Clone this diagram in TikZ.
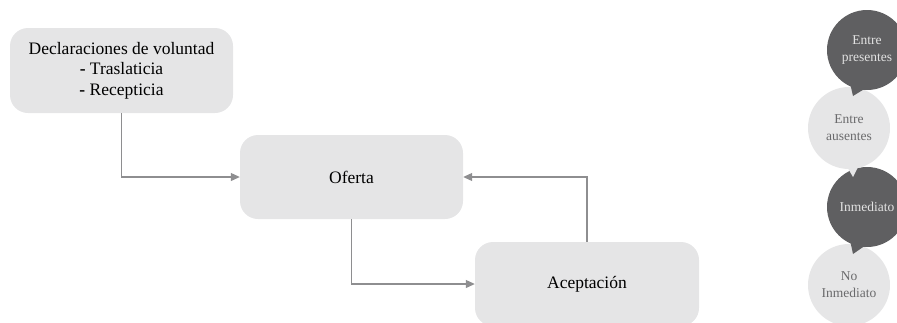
\documentclass[tikz,border=0pt]{standalone}
\usepackage{fontspec}
\setmainfont{Liberation Serif}
\usetikzlibrary{arrows.meta,calc}
\definecolor{boxfill}{HTML}{E5E5E6}
\definecolor{darkbub}{HTML}{5F5F61}
\definecolor{lightbub}{HTML}{E6E6E7}
\definecolor{linegray}{HTML}{8E8E90}
\definecolor{darktext}{HTML}{E2E2E2}
\definecolor{lighttext}{HTML}{6A6A6C}
\tikzset{
  box/.style={fill=boxfill, rounded corners=18pt, align=center, inner sep=0pt,
    font=\fontsize{17.5}{20.5}\selectfont, text=black},
  conn/.style={draw=linegray, line width=1.1pt,
    -{Triangle[length=9pt,width=8pt]}},
  bubble/.style={circle, minimum size=#1, inner sep=0pt, align=center,
    font=\fontsize{13.5}{17}\selectfont},
  darkb/.style={bubble=80pt, fill=darkbub, text=darktext},
  lightb/.style={bubble=82pt, fill=lightbub, text=lighttext},
}
\begin{document}
\begin{tikzpicture}[x=1pt,y=-1pt]
\useasboundingbox (0,0) rectangle (897,322);
\clip (0,0) rectangle (897,322);

% main flow boxes
\node[box, minimum width=223pt, minimum height=85pt] (decl) at (121.5,70.5)
  {Declaraciones de voluntad\\\textbf{-} Traslaticia\\\textbf{-} Recepticia};
\node[box, minimum width=223pt, minimum height=84pt] (oferta) at (351.5,177) {Oferta};
\node[box, minimum width=224pt, minimum height=84pt] (acep) at (587,284) {Aceptación};

% connectors
\draw[conn] (decl.south) |- (oferta.west);
\draw[conn] (oferta.south) |- (acep.west);
\draw[conn] (acep.north) |- (oferta.east);

% speech bubbles, bottom to top so that each tail lies over the bubble below
\node[lightb] (noinm) at (849,285) {No\\Inmediato};

\fill[darkbub] (850,240) -- (853,254) -- (866,245) -- cycle;
\node[darkb] (inm) at (867,207) {Inmediato};

\fill[lightbub] (846,165) -- (853,177) -- (859,165) -- cycle;
\node[lightb] (aus) at (849,128) {Entre\\ausentes};

\fill[darkbub] (850,83) -- (853,96) -- (866,88) -- cycle;
\node[darkb] (pres) at (867,50) {Entre\\presentes};
\end{tikzpicture}
\end{document}
